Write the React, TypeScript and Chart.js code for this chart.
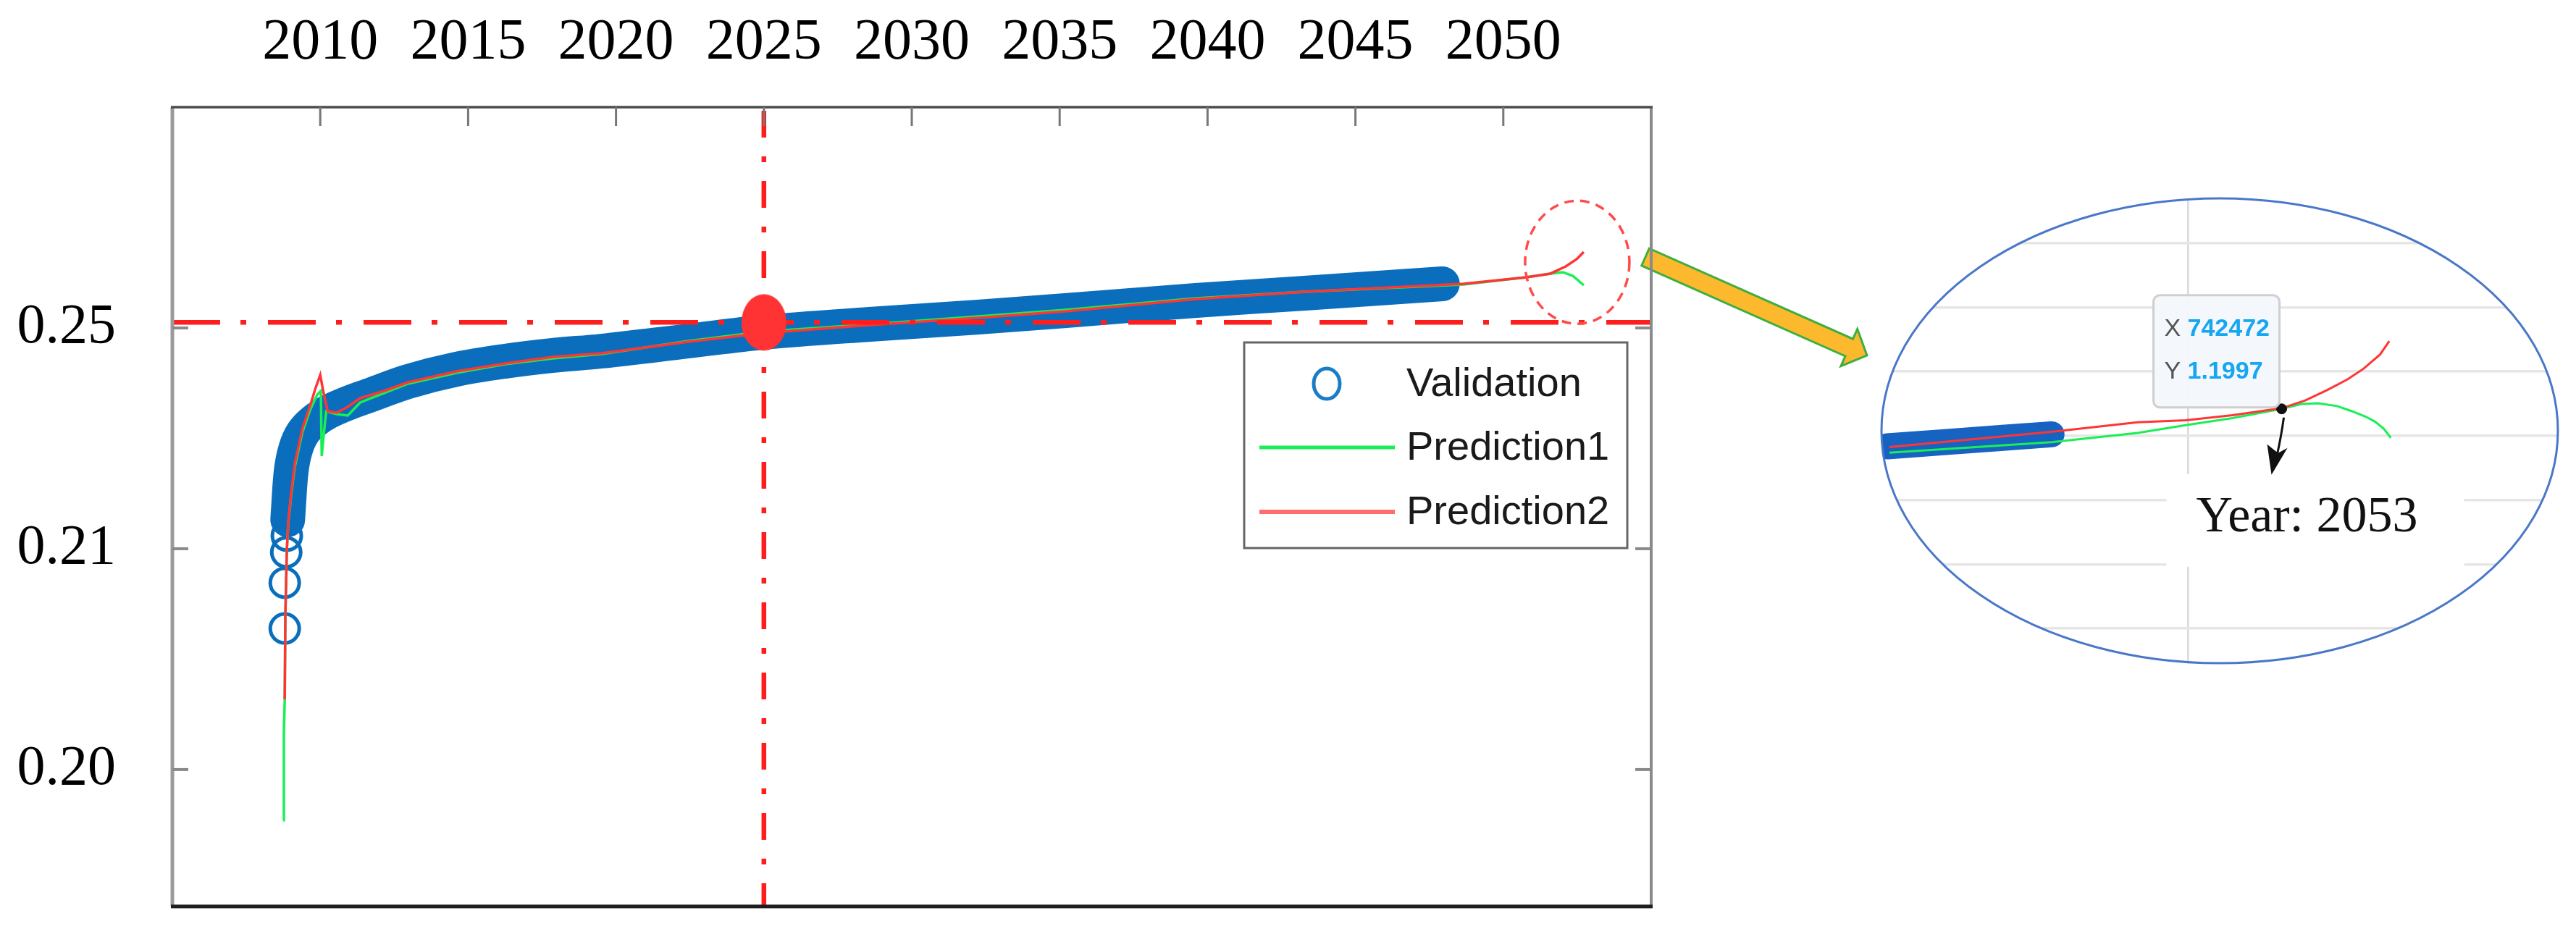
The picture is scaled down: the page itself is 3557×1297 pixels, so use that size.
import React, { useEffect, useRef } from 'react';
import { Chart, registerables, LinearScale } from 'chart.js';

Chart.register(...registerables);

// ---------------- data ----------------
const X_TICKS = [2010, 2015, 2020, 2025, 2030, 2035, 2040, 2045, 2050];
const Y_TICKS = [0.20, 0.21, 0.25];
const X_MIN = 2005;
const X_MAX = 2055;
const Y_MIN = 0.1938;
const Y_MAX = 0.29;

const VALID_YEARS = [2008.80, 2008.80, 2008.85, 2008.87, 2008.90, 2008.92, 2009.02, 2009.17, 2009.41, 2009.78, 2010.27, 2010.93, 2011.74, 2012.97, 2014.61, 2016.25, 2017.87, 2019.51, 2022.45, 2024.98, 2028.58, 2032.25, 2035.20, 2039.61, 2043.28, 2047.94];
const VALID_VALUES = [0.20639, 0.20846, 0.20984, 0.21236, 0.21525, 0.21695, 0.22416, 0.22810, 0.23098, 0.23308, 0.23479, 0.23636, 0.23793, 0.24030, 0.24252, 0.24397, 0.24502, 0.24580, 0.24764, 0.24921, 0.25066, 0.25197, 0.25315, 0.25498, 0.25630, 0.25800];
const VALID_RINGS_ONLY = 4;

const PRED1_YEARS = [2008.75, 2008.77, 2008.80, 2008.82, 2008.87, 2008.92, 2009.02, 2009.14, 2009.39, 2009.66, 2009.90, 2010.02, 2010.05, 2010.12, 2010.20, 2010.56, 2010.93, 2011.35, 2012.16, 2012.97, 2014.61, 2016.25, 2017.87, 2019.51, 2022.45, 2024.98, 2028.58, 2032.25, 2035.20, 2039.61, 2043.28, 2048.65, 2050.78, 2051.59, 2052.01, 2052.35, 2052.72];
const PRED1_VALUES = [0.19770, 0.20164, 0.20318, 0.20698, 0.20993, 0.21472, 0.21984, 0.22482, 0.23098, 0.23518, 0.23793, 0.23859, 0.22679, 0.23072, 0.23492, 0.23439, 0.23413, 0.23649, 0.23820, 0.23990, 0.24187, 0.24344, 0.24449, 0.24528, 0.24764, 0.24934, 0.25066, 0.25210, 0.25328, 0.25538, 0.25656, 0.25787, 0.25918, 0.25984, 0.26010, 0.25944, 0.25774];

const PRED2_YEARS = [2008.80, 2008.82, 2008.87, 2008.92, 2009.02, 2009.14, 2009.39, 2009.66, 2009.85, 2010.00, 2010.10, 2010.25, 2010.56, 2010.93, 2011.35, 2012.16, 2012.97, 2014.61, 2016.25, 2017.87, 2019.51, 2022.45, 2024.98, 2028.58, 2032.25, 2035.20, 2039.61, 2043.28, 2048.65, 2050.78, 2051.59, 2052.11, 2052.48, 2052.72];
const PRED2_VALUES = [0.20318, 0.20698, 0.20993, 0.21498, 0.22023, 0.22548, 0.23164, 0.23597, 0.23925, 0.24148, 0.23859, 0.23492, 0.23466, 0.23570, 0.23728, 0.23859, 0.24016, 0.24213, 0.24357, 0.24475, 0.24541, 0.24751, 0.24908, 0.25052, 0.25184, 0.25302, 0.25525, 0.25656, 0.25800, 0.25918, 0.25984, 0.26115, 0.26246, 0.26377];

const REF_YEAR = 2025;
const REF_VALUE = 0.251;
const FOCUS_YEAR = 2052.5;
const FOCUS_VALUE = 0.2619;

const LEGEND_LABELS = ['Validation', 'Prediction1', 'Prediction2'];

// inset (zoomed view)
const INSET_X_MIN = 2045.194;
const INSET_X_MAX = 2058.417;
const INSET_Y_MIN = 0.97198;
const INSET_Y_MAX = 1.33462;
const INSET_X_GRID = [2051.17];
const INSET_Y_GRID = [1.00, 1.05, 1.10, 1.15, 1.20, 1.25, 1.30];
const INSET_VALID_YEARS = [2045.31, 2046.44, 2047.56, 2048.51];
const INSET_VALID_VALUES = [1.14176, 1.14505, 1.14835, 1.15110];
const INSET_P1_YEARS = [2045.35, 2048.51, 2050.19, 2051.13, 2052.04, 2053.00, 2053.39, 2053.71, 2054.08, 2054.36, 2054.64, 2054.82, 2054.99, 2055.13];
const INSET_P1_VALUES = [1.13681, 1.14505, 1.15220, 1.15824, 1.16374, 1.17088, 1.17473, 1.17527, 1.17308, 1.16923, 1.16484, 1.16099, 1.15549, 1.14835];
const INSET_P2_YEARS = [2045.35, 2048.57, 2050.19, 2051.13, 2052.04, 2053.00, 2053.46, 2053.90, 2054.29, 2054.60, 2054.92, 2055.10];
const INSET_P2_VALUES = [1.14121, 1.15330, 1.16044, 1.16209, 1.16593, 1.17143, 1.17747, 1.18571, 1.19396, 1.20220, 1.21319, 1.22363];
const INSET_MARK_YEAR = 2053.0;
const INSET_MARK_VALUE = 1.1709;
const TIP_X = '742472';
const TIP_Y = '1.1997';
const YEAR_NOTE = 'Year: 2053';

// ---------------- styles ----------------
const BLUE = '#0A6EBD';
const GREEN = '#19EF55';
const RED = '#FF3535';
const REF_RED = '#FF1E1E';
const SERIF = '"Liberation Serif", "Times New Roman", serif';
const SANS = '"Liberation Sans", Arial, sans-serif';

const toPts = (xs: number[], ys: number[]) => xs.map((x, i) => ({ x, y: ys[i] }));

// piecewise y scale: labelled ticks are equally spaced
function toU(v: number) {
  const [a, b, c] = Y_TICKS;
  return v <= b ? (v - a) / (b - a) : 1 + (v - b) / (c - b);
}
function fromU(u: number) {
  const [a, b, c] = Y_TICKS;
  return u <= 1 ? a + u * (b - a) : b + (u - 1) * (c - b);
}

class PiecewiseScale extends (LinearScale as any) {
  static id = 'piecewise';
  static defaults = (LinearScale as any).defaults;
  getPixelForValue(value: number) {
    if (value === null || value === undefined || Number.isNaN(value)) return NaN;
    const u0 = toU(this.min), u1 = toU(this.max);
    return this.getPixelForDecimal((toU(value) - u0) / (u1 - u0));
  }
  getValueForPixel(pixel: number) {
    const u0 = toU(this.min), u1 = toU(this.max);
    return fromU(u0 + this.getDecimalForPixel(pixel) * (u1 - u0));
  }
}
Chart.register(PiecewiseScale as any);

function blockArrow(ctx: CanvasRenderingContext2D, x0: number, y0: number, x1: number, y1: number, half: number, headHalf: number, headLen: number) {
  const dx = x1 - x0, dy = y1 - y0, L = Math.hypot(dx, dy);
  const ux = dx / L, uy = dy / L, nx = -uy, ny = ux;
  const bx = x1 - ux * headLen, by = y1 - uy * headLen;
  ctx.beginPath();
  ctx.moveTo(x0 + nx * half, y0 + ny * half);
  ctx.lineTo(bx + nx * half, by + ny * half);
  ctx.lineTo(bx + nx * headHalf, by + ny * headHalf);
  ctx.lineTo(x1, y1);
  ctx.lineTo(bx - nx * headHalf, by - ny * headHalf);
  ctx.lineTo(bx - nx * half, by - ny * half);
  ctx.lineTo(x0 - nx * half, y0 - ny * half);
  ctx.closePath();
  ctx.fillStyle = '#FDB92E';
  ctx.fill();
  ctx.lineWidth = 3;
  ctx.strokeStyle = '#3FAE3F';
  ctx.lineJoin = 'miter';
  ctx.stroke();
}

const mainDecor = {
  id: 'mainDecor',
  afterDatasetsDraw(chart: any) {
    const { ctx, chartArea: a, scales } = chart;
    const x = scales.x, y = scales.y;
    ctx.save();

    // dashed highlight circle
    ctx.setLineDash([13, 9]);
    ctx.lineWidth = 3.5;
    ctx.strokeStyle = '#FF4B4B';
    ctx.beginPath();
    ctx.ellipse(x.getPixelForValue(FOCUS_YEAR), y.getPixelForValue(FOCUS_VALUE), 72, 85, 0, 0, Math.PI * 2);
    ctx.stroke();
    ctx.setLineDash([]);

    // orange pointer arrow
    blockArrow(ctx, a.right - 8, 355, a.right + 298, 491, 13, 28, 27);

    // frame
    ctx.lineCap = 'butt';
    ctx.strokeStyle = '#9a9a9a';
    ctx.lineWidth = 5;
    ctx.beginPath(); ctx.moveTo(a.left, a.top); ctx.lineTo(a.left, a.bottom); ctx.stroke();
    ctx.strokeStyle = '#8a8a8a';
    ctx.lineWidth = 4;
    ctx.beginPath(); ctx.moveTo(a.right, a.top); ctx.lineTo(a.right, a.bottom); ctx.stroke();
    ctx.strokeStyle = '#4d4d4d';
    ctx.lineWidth = 3.5;
    ctx.beginPath(); ctx.moveTo(a.left - 2, a.top); ctx.lineTo(a.right + 2, a.top); ctx.stroke();
    ctx.strokeStyle = '#1e1e1e';
    ctx.lineWidth = 5;
    ctx.beginPath(); ctx.moveTo(a.left - 2, a.bottom); ctx.lineTo(a.right + 2, a.bottom); ctx.stroke();

    // inward ticks
    ctx.strokeStyle = '#777';
    ctx.lineWidth = 3;
    for (const t of X_TICKS) {
      const px = x.getPixelForValue(t);
      ctx.beginPath(); ctx.moveTo(px, a.top); ctx.lineTo(px, a.top + 26); ctx.stroke();
    }
    ctx.strokeStyle = '#8a8a8a';
    ctx.lineWidth = 4;
    for (const t of Y_TICKS) {
      const py = y.getPixelForValue(t);
      ctx.beginPath(); ctx.moveTo(a.left, py); ctx.lineTo(a.left + 22, py); ctx.stroke();
      ctx.beginPath(); ctx.moveTo(a.right, py); ctx.lineTo(a.right - 22, py); ctx.stroke();
    }

    // legend
    const lw = 529, lh = 284;
    const lx = a.right - 562, ly = 473;
    ctx.fillStyle = '#fff';
    ctx.fillRect(lx, ly, lw, lh);
    ctx.strokeStyle = '#666';
    ctx.lineWidth = 3;
    ctx.strokeRect(lx, ly, lw, lh);
    const rows = [ly + 57, ly + 145, ly + 234];
    ctx.strokeStyle = '#1A7DC6';
    ctx.lineWidth = 5;
    ctx.beginPath(); ctx.ellipse(lx + 114, rows[0], 18, 21, 0, 0, Math.PI * 2); ctx.stroke();
    ctx.lineCap = 'butt';
    ctx.strokeStyle = GREEN;
    ctx.lineWidth = 5;
    ctx.beginPath(); ctx.moveTo(lx + 21, rows[1]); ctx.lineTo(lx + 208, rows[1]); ctx.stroke();
    ctx.strokeStyle = '#FF6E6E';
    ctx.lineWidth = 6;
    ctx.beginPath(); ctx.moveTo(lx + 21, rows[2]); ctx.lineTo(lx + 208, rows[2]); ctx.stroke();
    ctx.fillStyle = '#1a1a1a';
    ctx.font = `56px ${SANS}`;
    ctx.textBaseline = 'middle';
    ctx.textAlign = 'left';
    LEGEND_LABELS.forEach((lab, i) => ctx.fillText(lab, lx + 224, rows[i] + 2));

    ctx.restore();
  },
};

const EL = { cx: 475, cy: 329, rx: 467, ry: 321 };

const insetDecor = {
  id: 'insetDecor',
  beforeDraw(chart: any) {
    const ctx = chart.ctx;
    ctx.save();
    ctx.beginPath();
    ctx.ellipse(EL.cx, EL.cy, EL.rx, EL.ry, 0, 0, Math.PI * 2);
    ctx.fillStyle = '#fff';
    ctx.fill();
    ctx.clip();
  },
  beforeDatasetsDraw(chart: any) {
    const { ctx, scales } = chart;
    const dx = scales.x.getPixelForValue(INSET_MARK_YEAR);
    const dy = scales.y.getPixelForValue(INSET_MARK_VALUE);
    ctx.save();
    ctx.fillStyle = '#fff';
    ctx.fillRect(dx - 159, dy + 90, 411, 128);
    ctx.restore();
  },
  afterDatasetsDraw(chart: any) {
    const { ctx, scales } = chart;
    const dx = scales.x.getPixelForValue(INSET_MARK_YEAR);
    const dy = scales.y.getPixelForValue(INSET_MARK_VALUE);
    ctx.save();
    ctx.beginPath();
    (ctx as any).roundRect(dx - 177, dy - 157, 174, 155, 9);
    ctx.fillStyle = 'rgba(244,247,251,0.97)';
    ctx.fill();
    ctx.strokeStyle = '#CFCFCF';
    ctx.lineWidth = 3;
    ctx.stroke();
    ctx.textBaseline = 'middle';
    ctx.textAlign = 'left';
    ctx.fillStyle = '#555';
    ctx.font = `34px ${SANS}`;
    ctx.fillText('X', dx - 162, dy - 110);
    ctx.fillText('Y', dx - 162, dy - 51);
    ctx.fillStyle = '#16A6F2';
    ctx.font = `bold 34px ${SANS}`;
    ctx.fillText(TIP_X, dx - 130, dy - 110);
    ctx.fillText(TIP_Y, dx - 130, dy - 51);

    ctx.strokeStyle = '#111';
    ctx.lineWidth = 3;
    ctx.beginPath();
    ctx.moveTo(dx + 3, dy + 12);
    ctx.quadraticCurveTo(dx - 1, dy + 40, dx - 6, dy + 62);
    ctx.stroke();
    ctx.fillStyle = '#111';
    ctx.beginPath();
    ctx.moveTo(dx - 20, dy + 49);
    ctx.lineTo(dx - 5, dy + 61);
    ctx.lineTo(dx + 8, dy + 54);
    ctx.lineTo(dx - 14, dy + 91);
    ctx.closePath();
    ctx.fill();

    ctx.fillStyle = '#111';
    ctx.font = `70px ${SERIF}`;
    ctx.textAlign = 'center';
    ctx.fillText(YEAR_NOTE, dx + 35, dy + 151);
    ctx.restore();
  },
  afterDraw(chart: any) {
    const ctx = chart.ctx;
    ctx.restore();
    ctx.save();
    ctx.beginPath();
    ctx.ellipse(EL.cx, EL.cy, EL.rx, EL.ry, 0, 0, Math.PI * 2);
    ctx.strokeStyle = '#4A78C8';
    ctx.lineWidth = 3;
    ctx.stroke();
    ctx.restore();
  },
};

const noPad = (s: any) => {
  s.paddingTop = 0;
  s.paddingBottom = 0;
  s.paddingLeft = 0;
  s.paddingRight = 0;
};

export default function App() {
  const mainRef = useRef<HTMLCanvasElement>(null);
  const insetRef = useRef<HTMLCanvasElement>(null);

  useEffect(() => {
    const dot = document.createElement('canvas');
    dot.width = 64;
    dot.height = 80;
    const dctx = dot.getContext('2d')!;
    dctx.fillStyle = '#FF3333';
    dctx.beginPath();
    dctx.ellipse(32, 40, 31, 39, 0, 0, Math.PI * 2);
    dctx.fill();

    const main = new Chart(mainRef.current!, {
      type: 'scatter',
      data: {
        datasets: [
          { label: 'marker', data: [{ x: REF_YEAR, y: REF_VALUE }], pointStyle: dot as any, pointRadius: 35, showLine: false, order: 0 } as any,
          { label: 'refH', data: [{ x: X_MIN, y: REF_VALUE }, { x: X_MAX, y: REF_VALUE }], showLine: true, borderColor: REF_RED, borderWidth: 6.5, borderDash: [66, 28, 8, 30], pointRadius: 0, order: 1 },
          { label: 'refV', data: [{ x: REF_YEAR, y: Y_MAX }, { x: REF_YEAR, y: Y_MIN }], showLine: true, borderColor: REF_RED, borderWidth: 6.5, borderDash: [37, 26, 8, 26], borderDashOffset: 92, pointRadius: 0, order: 1 },
          { label: LEGEND_LABELS[2], data: toPts(PRED2_YEARS, PRED2_VALUES), showLine: true, borderColor: RED, borderWidth: 3.5, pointRadius: 0, tension: 0, order: 2 },
          { label: LEGEND_LABELS[1], data: toPts(PRED1_YEARS, PRED1_VALUES), showLine: true, borderColor: GREEN, borderWidth: 3.5, pointRadius: 0, tension: 0, order: 3 },
          {
            label: LEGEND_LABELS[0], data: toPts(VALID_YEARS, VALID_VALUES), showLine: true,
            borderColor: BLUE, borderWidth: 48, tension: 0.35, borderCapStyle: 'round', borderJoinStyle: 'round',
            segment: { borderColor: (c: any) => (c.p0DataIndex < VALID_RINGS_ONLY ? 'rgba(0,0,0,0)' : undefined) },
            pointRadius: 20, pointBorderWidth: 5, pointBorderColor: BLUE, pointBackgroundColor: 'rgba(0,0,0,0)', order: 4,
          } as any,
        ],
      },
      options: {
        responsive: false,
        animation: false,
        devicePixelRatio: 1,
        events: [],
        layout: { padding: { left: 0, top: 0, right: 3557 - 2280, bottom: 1297 - 1252 } },
        plugins: { legend: { display: false }, tooltip: { enabled: false } },
        scales: {
          x: {
            type: 'linear', position: 'top', min: X_MIN, max: X_MAX,
            afterBuildTicks: (s: any) => { s.ticks = X_TICKS.map((v) => ({ value: v })); },
            afterFit: (s: any) => { s.height = 148; noPad(s); },
            grid: { display: false, drawTicks: false },
            border: { display: false },
            ticks: { autoSkip: false, maxRotation: 0, padding: 40, color: '#000', font: { family: SERIF, size: 80 }, callback: (v: any) => String(v) },
          },
          y: {
            type: 'piecewise' as any, position: 'left', min: Y_MIN, max: Y_MAX,
            afterBuildTicks: (s: any) => { s.ticks = Y_TICKS.map((v) => ({ value: v })); },
            afterFit: (s: any) => { s.width = 238; noPad(s); },
            grid: { display: false, drawTicks: false },
            border: { display: false },
            ticks: { autoSkip: false, padding: 78, color: '#000', font: { family: SERIF, size: 78 }, callback: (v: any) => Number(v).toFixed(2) },
          },
        } as any,
      },
      plugins: [mainDecor],
    });

    const inset = new Chart(insetRef.current!, {
      type: 'scatter',
      data: {
        datasets: [
          { label: 'mark', data: [{ x: INSET_MARK_YEAR, y: INSET_MARK_VALUE }], pointRadius: 7, pointBackgroundColor: '#111', pointBorderColor: '#111', order: 0 },
          { label: 'p2', data: toPts(INSET_P2_YEARS, INSET_P2_VALUES), showLine: true, borderColor: RED, borderWidth: 3, pointRadius: 0, order: 1 },
          { label: 'p1', data: toPts(INSET_P1_YEARS, INSET_P1_VALUES), showLine: true, borderColor: GREEN, borderWidth: 3, pointRadius: 0, order: 2 },
          { label: 'valid', data: toPts(INSET_VALID_YEARS, INSET_VALID_VALUES), showLine: true, borderColor: '#1763C2', borderWidth: 36, borderCapStyle: 'round', pointRadius: 0, order: 3 } as any,
        ],
      },
      options: {
        responsive: false,
        animation: false,
        devicePixelRatio: 1,
        events: [],
        layout: { padding: 0 },
        plugins: { legend: { display: false }, tooltip: { enabled: false } },
        scales: {
          x: {
            type: 'linear', min: INSET_X_MIN, max: INSET_X_MAX,
            afterBuildTicks: (s: any) => { s.ticks = INSET_X_GRID.map((v) => ({ value: v })); },
            afterFit: (s: any) => { s.height = 0; noPad(s); },
            ticks: { display: false },
            grid: { color: '#DADADA', lineWidth: 2.5, drawTicks: false },
            border: { display: false },
          },
          y: {
            type: 'linear', min: INSET_Y_MIN, max: INSET_Y_MAX,
            afterBuildTicks: (s: any) => { s.ticks = INSET_Y_GRID.map((v) => ({ value: v })); },
            afterFit: (s: any) => { s.width = 0; noPad(s); },
            ticks: { display: false },
            grid: { color: '#E6E6E6', lineWidth: 3.5, drawTicks: false },
            border: { display: false },
          },
        } as any,
      },
      plugins: [insetDecor],
    });

    return () => {
      main.destroy();
      inset.destroy();
    };
  }, []);

  return (
    <div style={{ position: 'fixed', left: 0, top: 0, width: 3557, height: 1297, background: '#fff', overflow: 'hidden' }}>
      <canvas ref={mainRef} width={3557} height={1297} style={{ position: 'absolute', left: 0, top: 0, width: 3557, height: 1297 }} />
      <canvas ref={insetRef} width={952} height={660} style={{ position: 'absolute', left: 2590, top: 266, width: 952, height: 660 }} />
    </div>
  );
}
